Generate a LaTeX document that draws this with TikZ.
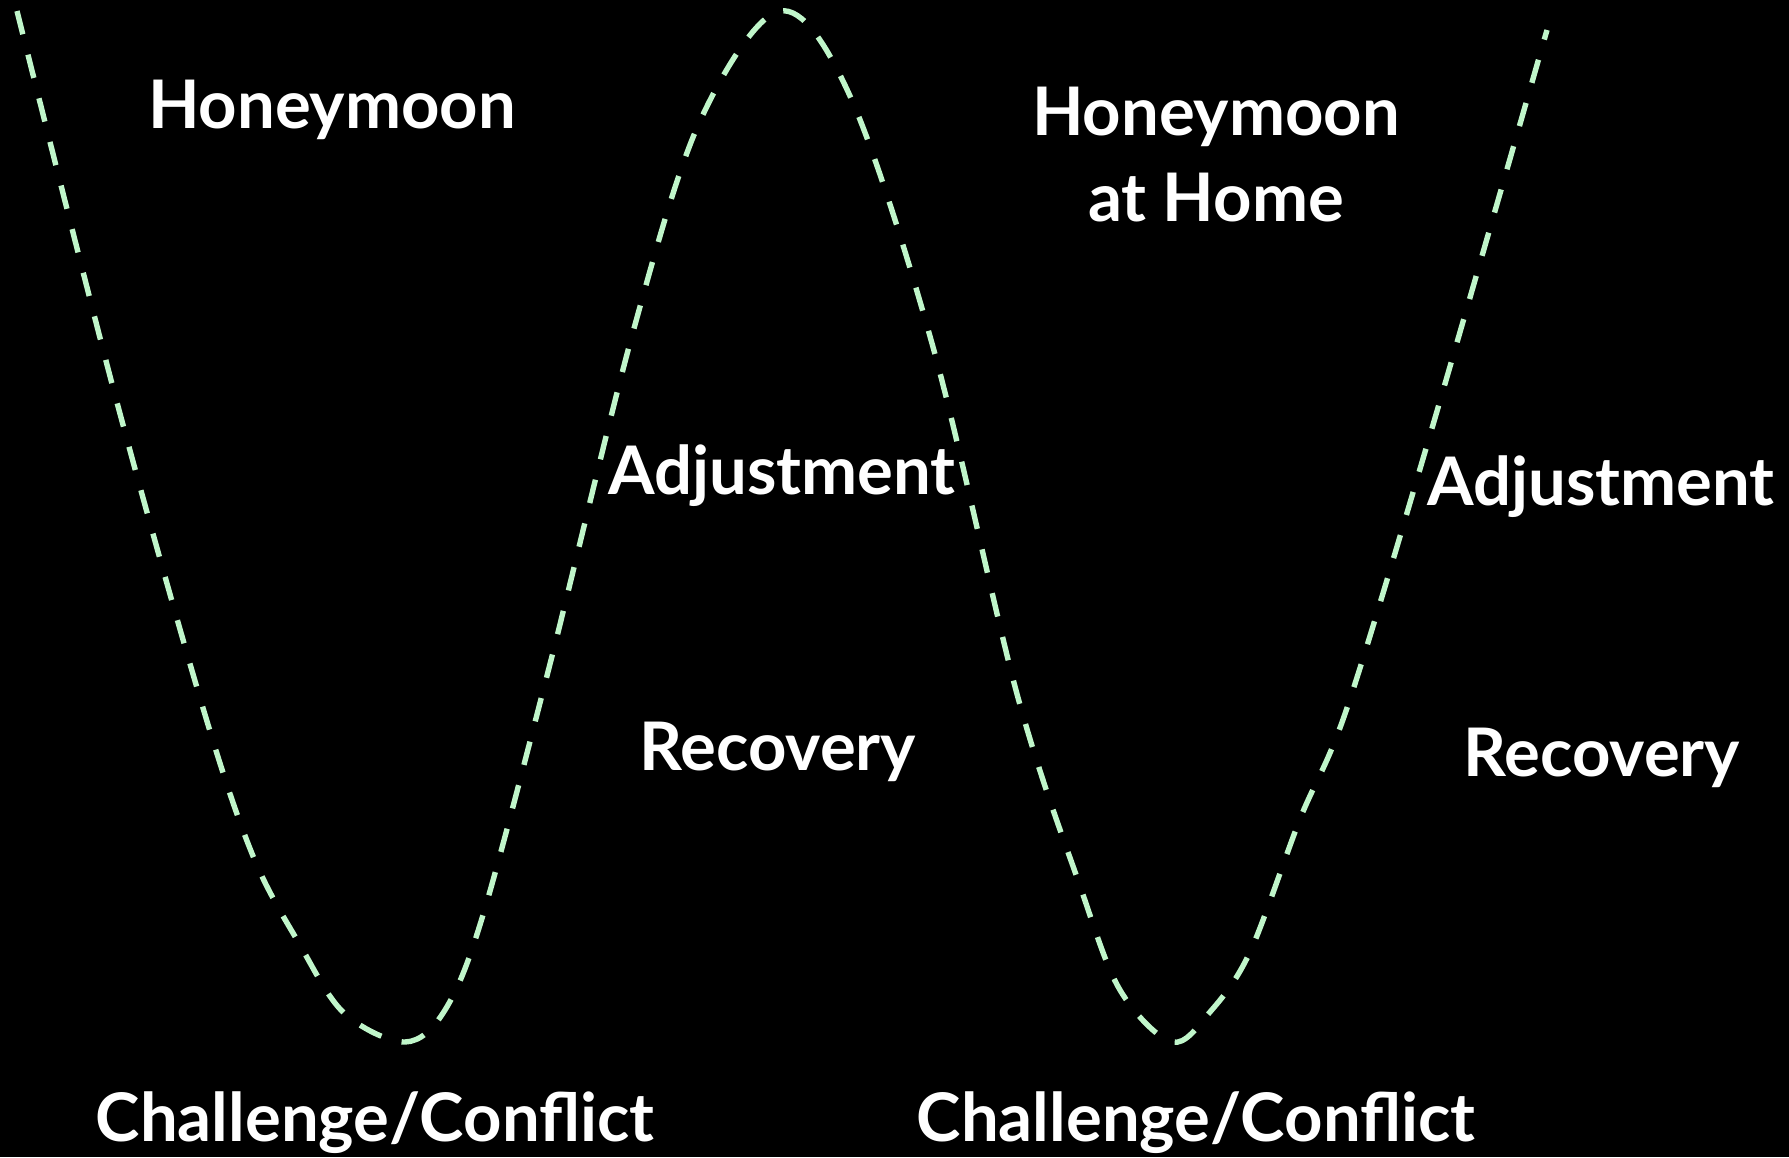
\documentclass[tikz,border=0pt]{standalone}
\usepackage{fontspec}
\setsansfont{Lato}
\usepackage{tikz}

\definecolor{mint}{RGB}{192,246,202}
\newcommand\phasefont{\sffamily\bfseries\fontsize{33.5}{43}\selectfont}

\begin{document}
\begin{tikzpicture}[
  x=0.5pt, y=-0.5pt,
  phase/.style={text=white,font=\phasefont,inner sep=0pt,anchor=base,align=center},
  wave/.style={draw=mint,line width=2.7pt,dash pattern=on 12pt off 10.5pt}
]
  \fill[black] (0,0) rectangle (1789,1157);
  \useasboundingbox (0,0) rectangle (1789,1157);

  % the W curve
  \draw[wave] plot[smooth,tension=0.55] coordinates {
    (17,11) (115,395) (203,708) (253,856) (300,945) (344,1013) (405,1042)
    (445,1010) (483,915) (550,664) (633,332) (700,121) (780,11) (850,96)
    (933,347) (1017,694) (1080,886) (1120,990) (1172,1042) (1210,1012)
    (1250,952) (1300,819) (1347,708) (1430,435) (1547,30)};

  \node[phase] (honey) at (332,128) {Honeymoon};
  \node[phase] (home) at (1216,221) {Honeymoon\\at Home};
  \node[phase] (adjust1) at (782,494) {Adjustment};
  \node[phase] (recover1) at (778,770) {Recovery};
  \node[phase] (adjust2) at (1601,505) {Adjustment};
  \node[phase] (recover2) at (1602,776) {Recovery};
  \node[phase] (conflict1) at (375,1141) {Challenge/Conflict};
  \node[phase] (conflict2) at (1196,1141) {Challenge/Conflict};
\end{tikzpicture}
\end{document}
